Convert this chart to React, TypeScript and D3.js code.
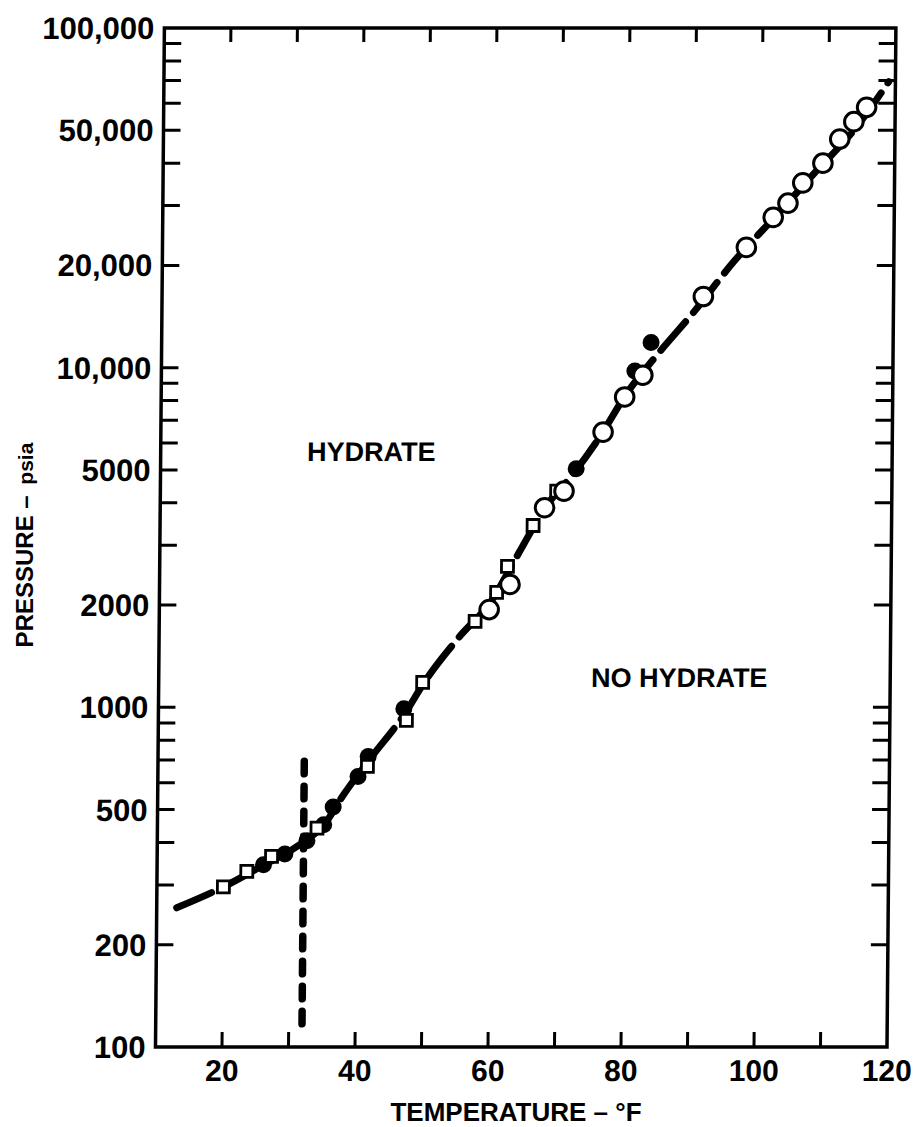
import React, { useEffect, useRef } from 'react';
import * as d3 from 'd3';

const width = 921;
const height = 1127;

// hydrate formation curve, temperature (°F) vs pressure (psia)
const curveTemps = [13, 20, 26, 30, 32.5, 35, 38, 42, 47, 50, 55, 60, 64, 68, 72, 76, 80, 84, 90, 96, 102, 108, 114, 119];
const curvePressures = [257, 296, 343, 378, 408, 450, 555, 710, 955, 1190, 1600, 2070, 2850, 3900, 4850, 6250, 8400, 10600, 14600, 20600, 27700, 37500, 50500, 69500];

// open squares
const squareTemps = [20, 23.5, 27.2, 34, 41.5, 47.3, 49.7, 57.5, 60.7, 62.3, 66.1, 69.6];
const squarePressures = [296, 329, 364, 441, 670, 915, 1185, 1790, 2180, 2600, 3430, 4330];

// filled circles
const dotTemps = [26, 29.2, 32.5, 35, 36.4, 40.1, 41.6, 46.9, 72.5, 81.2, 83.6];
const dotPressures = [344, 370, 405, 451, 509, 626, 717, 990, 5040, 9780, 11860];

// open circles
const circleTemps = [59.6, 62.7, 67.8, 70.7, 76.5, 79.7, 82.4, 91.4, 97.8, 101.8, 104, 106.2, 109.2, 111.7, 113.8, 115.7];
const circlePressures = [1940, 2300, 3870, 4330, 6460, 8200, 9500, 16200, 22600, 27700, 30500, 35000, 40000, 47100, 53000, 58400];

// ice point line
const freezeTemp = 32;
const freezePressures = [117, 695];

const tempTicks = [20, 30, 40, 50, 60, 70, 80, 90, 100, 110];
const tempLabels = [20, 40, 60, 80, 100, 120];
const pressureLabels = [100, 200, 500, 1000, 2000, 5000, 10000, 20000, 50000, 100000];
const pressureLabelText = ['100', '200', '500', '1000', '2000', '5000', '10,000', '20,000', '50,000', '100,000'];

const FONT = '"Liberation Sans", Arial, sans-serif';

const margins = { top: 28, bottom: 80, left: 155.5, right: 34 };

export default function App() {
    const svgRef = useRef<SVGSVGElement>(null);

    useEffect(() => {
        const svg = d3.select(svgRef.current);
        svg.selectAll('*').remove();

        const x0 = margins.left;
        const x1 = width - margins.right;
        const y0 = height - margins.bottom;
        const y1 = margins.top;

        const x = d3.scaleLinear().domain([10, 120]).range([x0, x1]);
        const y = d3.scaleLog().domain([100, 100000]).range([y0, y1]);

        // the scanned figure leans a little to the right at the top
        const g = svg.append('g')
            .attr('transform', `translate(0,${y0}) skewX(-0.5) translate(0,${-y0})`);

        // frame
        g.append('rect')
            .attr('x', x0).attr('y', y1)
            .attr('width', x1 - x0).attr('height', y0 - y1)
            .attr('fill', 'none').attr('stroke', '#000').attr('stroke-width', 3.5);

        // temperature ticks, bottom and top, pointing inward
        const tTicks = g.append('g').attr('stroke', '#000').attr('stroke-width', 3);
        tempTicks.forEach(t => {
            tTicks.append('line').attr('x1', x(t)).attr('x2', x(t)).attr('y1', y0).attr('y2', y0 - 15);
            tTicks.append('line').attr('x1', x(t)).attr('x2', x(t)).attr('y1', y1).attr('y2', y1 + 14);
        });

        // pressure ticks, left and right
        const pTicks = g.append('g').attr('stroke', '#000').attr('stroke-width', 3);
        y.ticks().filter(p => p > 100 && p < 100000).forEach(p => {
            pTicks.append('line').attr('x1', x0).attr('x2', x0 + 17).attr('y1', y(p)).attr('y2', y(p));
            pTicks.append('line').attr('x1', x1).attr('x2', x1 - 17).attr('y1', y(p)).attr('y2', y(p));
        });

        // tick labels
        g.append('g').selectAll('text')
            .data(tempLabels)
            .join('text')
            .attr('x', d => x(d))
            .attr('y', y0 + 34)
            .attr('text-anchor', 'middle')
            .attr('font-family', FONT).attr('font-weight', 'bold').attr('font-size', 30)
            .text(d => d);

        g.append('g').selectAll('text')
            .data(pressureLabels)
            .join('text')
            .attr('x', x0 - 10)
            .attr('y', d => y(d) + 11)
            .attr('text-anchor', 'end')
            .attr('font-family', FONT).attr('font-weight', 'bold').attr('font-size', 31)
            .text((d, i) => pressureLabelText[i]);

        // hydrate curve
        const curve = curveTemps.map((t, i) => [t, curvePressures[i]] as [number, number]);
        const line = d3.line<[number, number]>()
            .x(d => x(d[0]))
            .y(d => y(d[1]))
            .curve(d3.curveMonotoneX);
        g.append('path')
            .attr('d', line(curve))
            .attr('fill', 'none').attr('stroke', '#000').attr('stroke-width', 7)
            .attr('stroke-linecap', 'round')
            .attr('stroke-dasharray', '38 12');

        // 32 °F line
        g.append('line')
            .attr('x1', x(freezeTemp)).attr('x2', x(freezeTemp))
            .attr('y1', y(freezePressures[0])).attr('y2', y(freezePressures[1]))
            .attr('stroke', '#000').attr('stroke-width', 7.5)
            .attr('stroke-linecap', 'round')
            .attr('stroke-dasharray', '12.5 12.5');

        // markers: filled circles, then squares, then open circles on top
        g.append('g').selectAll('circle')
            .data(dotTemps)
            .join('circle')
            .attr('cx', d => x(d))
            .attr('cy', (d, i) => y(dotPressures[i]))
            .attr('r', 8.5)
            .attr('fill', '#000');

        const side = 12;
        g.append('g').selectAll('rect')
            .data(squareTemps)
            .join('rect')
            .attr('x', d => x(d) - side / 2)
            .attr('y', (d, i) => y(squarePressures[i]) - side / 2)
            .attr('width', side).attr('height', side)
            .attr('fill', '#fff').attr('stroke', '#000').attr('stroke-width', 2.8);

        g.append('g').selectAll('circle')
            .data(circleTemps)
            .join('circle')
            .attr('cx', d => x(d))
            .attr('cy', (d, i) => y(circlePressures[i]))
            .attr('r', 9.3)
            .attr('fill', '#fff').attr('stroke', '#000').attr('stroke-width', 3);

        // region labels
        g.append('text')
            .attr('x', x(32)).attr('y', y(5300))
            .attr('font-family', FONT).attr('font-weight', 'bold').attr('font-size', 27)
            .text('HYDRATE');
        g.append('text')
            .attr('x', x(75)).attr('y', y(1150))
            .attr('font-family', FONT).attr('font-weight', 'bold').attr('font-size', 27)
            .text('NO HYDRATE');

        // axis titles
        svg.append('text')
            .attr('x', 516).attr('y', 1121)
            .attr('text-anchor', 'middle')
            .attr('font-family', FONT).attr('font-weight', 'bold').attr('font-size', 26)
            .text('TEMPERATURE – °F');

        const yTitle = svg.append('text')
            .attr('transform', 'translate(33,545) rotate(-90)')
            .attr('text-anchor', 'middle')
            .attr('font-family', FONT).attr('font-weight', 'bold').attr('font-size', 24)
            .text('PRESSURE – ');
        yTitle.append('tspan').attr('dx', 4).attr('font-size', 21).text('psia');
    }, []);

    return (
        <svg
            ref={svgRef}
            width={width}
            height={height}
            style={{ position: 'absolute', left: 0, top: 0, background: '#fff' }}
        />
    );
}
